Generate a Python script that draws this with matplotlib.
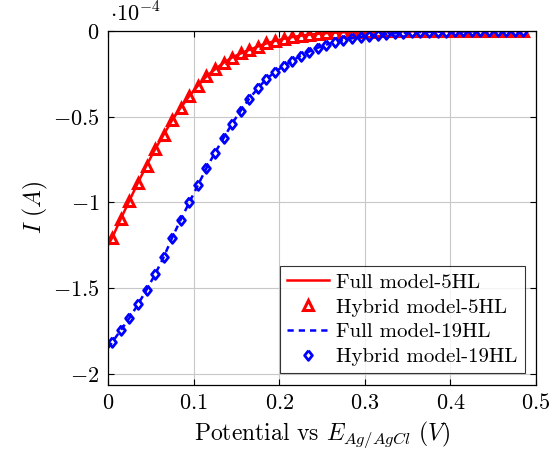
import matplotlib
matplotlib.use("Agg")
import matplotlib.pyplot as plt

plt.rcParams["font.family"] = "serif"
plt.rcParams["font.serif"] = ["cmr10", "DejaVu Serif"]
plt.rcParams["mathtext.fontset"] = "cm"
plt.rcParams["axes.formatter.use_mathtext"] = True
plt.rcParams["font.size"] = 14

# potential (V) where hybrid-model points are sampled
potential = [0.005, 0.015, 0.025, 0.035, 0.045, 0.055, 0.065, 0.075, 0.085, 0.095,
             0.105, 0.115, 0.125, 0.135, 0.145, 0.155, 0.165, 0.175, 0.185, 0.195,
             0.205, 0.215, 0.225, 0.235, 0.245, 0.255, 0.265, 0.275, 0.285, 0.295,
             0.305, 0.315, 0.325, 0.335, 0.345, 0.355, 0.365, 0.375, 0.385, 0.395,
             0.405, 0.415, 0.425, 0.435, 0.445, 0.455, 0.465, 0.475, 0.485]

# current in units of 1e-4 A
current_5hl = [-1.205, -1.095, -0.99, -0.885, -0.785, -0.69, -0.605, -0.52, -0.447, -0.38,
               -0.32, -0.265, -0.224, -0.186, -0.155, -0.131, -0.11, -0.091, -0.073, -0.058,
               -0.046, -0.036, -0.028, -0.022, -0.017, -0.013, -0.010, -0.008, -0.006, -0.005,
               -0.004, -0.003, -0.003, -0.002, -0.002, -0.002, -0.001, -0.001, -0.001, -0.001,
               -0.001, -0.001, -0.0, -0.0, -0.0, -0.0, -0.0, -0.0, -0.0]

current_19hl = [-1.815, -1.745, -1.675, -1.595, -1.51, -1.42, -1.32, -1.205, -1.10, -1.00,
                -0.90, -0.80, -0.71, -0.625, -0.54, -0.465, -0.395, -0.335, -0.28, -0.24,
                -0.205, -0.175, -0.145, -0.12, -0.098, -0.08, -0.065, -0.053, -0.043, -0.035,
                -0.028, -0.023, -0.018, -0.014, -0.011, -0.009, -0.007, -0.006, -0.005, -0.004,
                -0.003, -0.003, -0.002, -0.002, -0.002, -0.001, -0.001, -0.001, -0.001]

# full-model curves start at 0 V
full_potential = [0.0] + potential
full_5hl = [-1.25] + current_5hl
full_19hl = [-1.85] + current_19hl

# slightly tall diamond, like the pgfplots one
diamond = [(0, 1), (0.8, 0), (0, -1), (-0.8, 0), (0, 1)]

fig = plt.figure(figsize=(5.5, 4.55), dpi=100)
ax = fig.add_axes([0.1964, 0.154, 0.7782, 0.778])

ax.plot(full_potential, full_5hl, color="red", lw=1.8, label="Full model-5HL")
ax.plot(potential, current_5hl, ls="none", marker="^", ms=6.5, mfc="none",
        mec="red", mew=2.2, label="Hybrid model-5HL")
ax.plot(full_potential, full_19hl, color="blue", lw=1.8, ls=(0, (2.5, 2)),
        label="Full model-19HL")
ax.plot(potential, current_19hl, ls="none", marker=diamond, ms=7, mfc="none",
        mec="blue", mew=2.0, label="Hybrid model-19HL")

ax.set_xlim(0, 0.5)
ax.set_ylim(-2.065, 0)
ax.set_xticks([0, 0.1, 0.2, 0.3, 0.4, 0.5])
ax.set_xticklabels(["$0$", "$0.1$", "$0.2$", "$0.3$", "$0.4$", "$0.5$"])
ax.set_yticks([-2, -1.5, -1, -0.5, 0])
ax.set_yticklabels(["$-2$", "$-1.5$", "$-1$", "$-0.5$", "$0$"])
ax.tick_params(direction="in", top=True, right=True, labelsize=16, length=4, pad=6)
ax.grid(True, color="#c8c8c8", lw=0.8)
ax.set_axisbelow(True)
for s in ax.spines.values():
    s.set_linewidth(0.9)

ax.text(0.005, 1.015, r"$\cdot 10^{-4}$", transform=ax.transAxes, fontsize=16,
        ha="left", va="bottom")
ax.set_xlabel(r"Potential vs $E_{Ag/AgCl}$ $(V)$", fontsize=17, labelpad=4)
ax.set_ylabel(r"$I\ (A)$", fontsize=17, labelpad=2)

leg = ax.legend(loc="lower right", fontsize=15, frameon=True, fancybox=False,
                edgecolor="black", handlelength=2.0, borderaxespad=0.55,
                labelspacing=0.3, handletextpad=0.35, borderpad=0.35)
leg.get_frame().set_linewidth(0.8)

fig.savefig("out.png", dpi=100)
